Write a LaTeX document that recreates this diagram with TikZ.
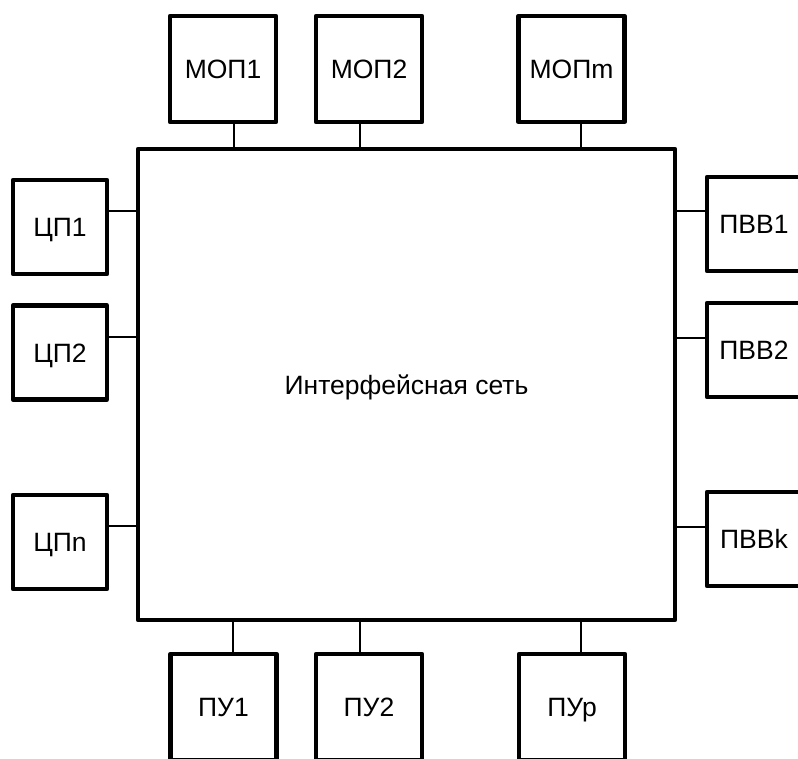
\documentclass[tikz,border=0pt]{standalone}
\usepackage{fontspec}
\setmainfont{Liberation Sans}
\begin{document}
\begin{tikzpicture}[x=1pt,y=-1pt,
  blk/.style={draw, line width=4.3pt, line join=round, fill=white, inner sep=0pt, text height=19pt, text depth=0pt, font=\fontsize{26.5}{30}\selectfont},
  tall/.style={blk, minimum width=106pt, minimum height=106pt},
  side/.style={blk, minimum width=94pt, minimum height=94pt},
  conn/.style={line width=1.3pt}]
\useasboundingbox (0,0) rectangle (798,758);
\clip (0,0) rectangle (798,758);
\node[blk, minimum width=537pt, minimum height=471pt] (net) at (406.5,384.5) {Интерфейсная сеть};
% top
\node[tall] (mop1) at (223,69) {МОП1};
\node[tall] (mop2) at (369,69) {МОП2};
\node[tall] (mopm) at (571.5,69) {МОПm};
% bottom
\node[tall] (pu1) at (223.5,707) {ПУ1};
\node[tall] (pu2) at (369,707) {ПУ2};
\node[tall] (pup) at (572,707) {ПУр};
% left
\node[side] (cp1) at (60,227) {ЦП1};
\node[side] (cp2) at (60,352.5) {ЦП2};
\node[side] (cpn) at (60,542) {ЦПn};
% right
\node[side] (pvv1) at (754,224) {ПВВ1};
\node[side] (pvv2) at (754,350) {ПВВ2};
\node[side] (pvvk) at (754,539) {ПВВk};
% connector coordinates
\coordinate (t1) at (234,0);
\coordinate (t2) at (360,0);
\coordinate (tm) at (581,0);
\coordinate (b1) at (233,0);
\coordinate (b2) at (360,0);
\coordinate (bp) at (581,0);
\coordinate (l1) at (0,211);
\coordinate (l2) at (0,337);
\coordinate (ln) at (0,526);
\coordinate (r1) at (0,211);
\coordinate (r2) at (0,338);
\coordinate (rk) at (0,527);
\draw[conn] (mop1.south -| t1) -- (net.north -| t1);
\draw[conn] (mop2.south -| t2) -- (net.north -| t2);
\draw[conn] (mopm.south -| tm) -- (net.north -| tm);
\draw[conn] (pu1.north -| b1) -- (net.south -| b1);
\draw[conn] (pu2.north -| b2) -- (net.south -| b2);
\draw[conn] (pup.north -| bp) -- (net.south -| bp);
\draw[conn] (cp1.east |- l1) -- (net.west |- l1);
\draw[conn] (cp2.east |- l2) -- (net.west |- l2);
\draw[conn] (cpn.east |- ln) -- (net.west |- ln);
\draw[conn] (pvv1.west |- r1) -- (net.east |- r1);
\draw[conn] (pvv2.west |- r2) -- (net.east |- r2);
\draw[conn] (pvvk.west |- rk) -- (net.east |- rk);
\end{tikzpicture}
\end{document}
